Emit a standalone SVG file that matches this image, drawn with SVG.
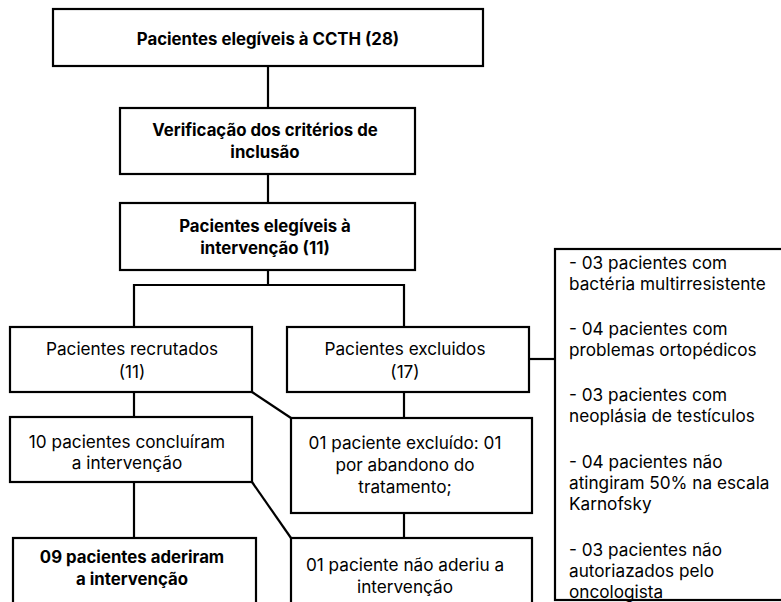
<svg xmlns="http://www.w3.org/2000/svg" width="781" height="602" viewBox="0 0 781 602">
<style>
.box{fill:#fff;stroke:#000;stroke-width:2.2}
.ln{fill:none;stroke:#000;stroke-width:2.2}
text{font-family:Inter,"Open Sans",sans-serif;font-size:17.2px;fill:#000}
.c{text-anchor:middle}
.b{font-weight:bold;font-size:16.8px}
</style>
<rect width="781" height="602" fill="#fff"/>
<g id="connectors">
<line class="ln" x1="268" y1="66" x2="268" y2="108"/>
<line class="ln" x1="268" y1="174" x2="268" y2="203"/>
<line class="ln" x1="268" y1="270" x2="268" y2="285"/>
<polyline class="ln" points="134,327 134,285 404,285 404,327"/>
<line class="ln" x1="134" y1="392" x2="134" y2="417"/>
<line class="ln" x1="134" y1="482" x2="134" y2="538"/>
<line class="ln" x1="252" y1="392" x2="291" y2="418"/>
<line class="ln" x1="252" y1="482" x2="291" y2="538"/>
<line class="ln" x1="404" y1="392" x2="404" y2="418"/>
<line class="ln" x1="404" y1="513" x2="404" y2="538"/>
<line class="ln" x1="529" y1="359" x2="555" y2="359"/>
</g>
<g id="n1"><rect class="box" x="53" y="9" width="430" height="57"/>
<text class="c b" x="268" y="45">Pacientes elegíveis à CCTH (28)</text></g>
<g id="n2"><rect class="box" x="120" y="108" width="295" height="66"/>
<text class="c b" x="265" y="136">Verificação dos critérios de</text>
<text class="c b" x="265" y="158">inclusão</text></g>
<g id="n3"><rect class="box" x="120" y="203" width="295" height="67"/>
<text class="c b" x="265" y="232">Pacientes elegíveis à</text>
<text class="c b" x="265" y="254">intervenção (11)</text></g>
<g id="n4"><rect class="box" x="10" y="327" width="242" height="65"/>
<text class="c" x="132" y="355">Pacientes recrutados</text>
<text class="c" x="132" y="378">(11)</text></g>
<g id="n5"><rect class="box" x="287" y="327" width="242" height="65"/>
<text class="c" x="405" y="355">Pacientes excluidos</text>
<text class="c" x="405" y="378">(17)</text></g>
<g id="n6"><rect class="box" x="10" y="417" width="242" height="65"/>
<text class="c" x="127" y="448">10 pacientes concluíram</text>
<text class="c" x="127" y="469">a intervenção</text></g>
<g id="n7"><rect class="box" x="291" y="418" width="241" height="95"/>
<text class="c" x="405" y="449">01 paciente excluído: 01</text>
<text class="c" x="405" y="471">por abandono do</text>
<text class="c" x="405" y="493">tratamento;</text></g>
<g id="n8"><rect class="box" x="13" y="538" width="243" height="90"/>
<text class="c b" x="132" y="563">09 pacientes aderiram</text>
<text class="c b" x="132" y="585">a intervenção</text></g>
<g id="n9"><rect class="box" x="291" y="538" width="241" height="90"/>
<text class="c" x="405" y="571">01 paciente não aderiu a</text>
<text class="c" x="405" y="593">intervenção</text></g>
<g id="n10"><rect class="box" x="555" y="249" width="240" height="351"/>
<text x="569" y="269">- 03 pacientes com</text>
<text x="569" y="290">bactéria multirresistente</text>
<text x="569" y="335">- 04 pacientes com</text>
<text x="569" y="356">problemas ortopédicos</text>
<text x="569" y="401">- 03 pacientes com</text>
<text x="569" y="422">neoplásia de testículos</text>
<text x="569" y="468">- 04 pacientes não</text>
<text x="569" y="489">atingiram 50% na escala</text>
<text x="569" y="510">Karnofsky</text>
<text x="569" y="556">- 03 pacientes não</text>
<text x="569" y="577">autoriazados pelo</text>
<text x="569" y="598">oncologista</text></g>
</svg>
